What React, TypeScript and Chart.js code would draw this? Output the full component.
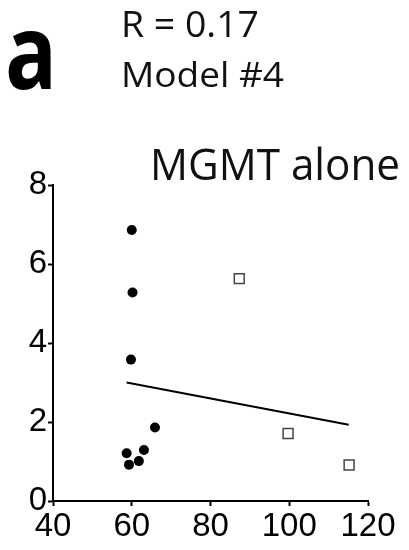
import React, { useEffect, useRef } from "react";
import { Chart, registerables } from "chart.js";

Chart.register(...registerables);

const filledX = [60.0, 60.2, 59.8, 65.9, 58.7, 63.1, 61.8, 59.3];
const filledY = [6.86, 5.28, 3.58, 1.86, 1.21, 1.29, 1.01, 0.92];
const openX = [87.3, 99.7, 115.2];
const openY = [5.63, 1.71, 0.91];
const fitX = [58.7, 115.1];
const fitY = [3.0, 1.93];
const xTicks = [40, 60, 80, 100, 120];
const yTicks = [0, 2, 4, 6, 8];

const panelLabel = "a";
const rLabel = "R = 0.17";
const modelLabel = "Model #4";
const titleLabel = "MGMT alone";

function fitText(
  ctx: CanvasRenderingContext2D,
  text: string,
  x: number,
  y: number,
  targetW: number,
  size: number,
  weight: string,
  family: string,
  color: string
) {
  ctx.save();
  ctx.font = `${weight} ${size}px ${family}`;
  ctx.fillStyle = color;
  ctx.textAlign = "left";
  ctx.textBaseline = "alphabetic";
  const w = ctx.measureText(text).width;
  ctx.translate(x, y);
  ctx.scale(targetW / w, 1);
  ctx.fillText(text, 0, 0);
  ctx.restore();
}

const textPlugin = {
  id: "textPlugin",
  afterDraw(chart: any) {
    const ctx = chart.ctx as CanvasRenderingContext2D;
    fitText(ctx, panelLabel, 5, 89, 52, 104, "700", "'Open Sans'", "#000");
    fitText(ctx, rLabel, 121, 37, 138, 37, "400", "'Open Sans'", "#111");
    fitText(ctx, modelLabel, 121, 87, 163, 35, "400", "'Open Sans'", "#111");
    fitText(ctx, titleLabel, 150, 180, 250, 43, "400", "'Open Sans'", "#111");
  },
};

export default function App() {
  const ref = useRef<HTMLCanvasElement>(null);
  useEffect(() => {
    if (!ref.current) return;
    const tickFont = { family: "'Liberation Sans', Arial, sans-serif", size: 33 };
    const chart = new Chart(ref.current, {
      type: "scatter",
      data: {
        datasets: [
          {
            type: "line",
            data: fitX.map((x, i) => ({ x, y: fitY[i] })),
            borderColor: "#000",
            borderWidth: 2,
            pointRadius: 0,
            showLine: true,
            fill: false,
          } as any,
          {
            data: filledX.map((x, i) => ({ x, y: filledY[i] })),
            pointStyle: "circle",
            pointRadius: 5,
            backgroundColor: "#000",
            borderColor: "#000",
            borderWidth: 0,
          },
          {
            data: openX.map((x, i) => ({ x, y: openY[i] })),
            pointStyle: "rect",
            pointRadius: 7,
            backgroundColor: "#fff",
            borderColor: "#444",
            borderWidth: 1.5,
          },
        ],
      },
      options: {
        responsive: false,
        animation: false,
        layout: { padding: { top: 185, right: 41, left: 0, bottom: 0 } },
        plugins: {
          legend: { display: false },
          tooltip: { enabled: false },
          title: { display: false },
        },
        scales: {
          x: {
            type: "linear",
            min: 40,
            max: 120,
            afterBuildTicks: (s: any) => {
              s.ticks = xTicks.map((v) => ({ value: v }));
            },
            afterFit: (s: any) => {
              s.height = 49;
            },
            grid: {
              display: true,
              drawOnChartArea: false,
              drawTicks: true,
              tickLength: 5,
              tickWidth: 2,
              tickColor: "#000",
            },
            border: { display: true, color: "#000", width: 2 },
            ticks: { color: "#000", font: tickFont, padding: 1, maxRotation: 0 },
          },
          y: {
            type: "linear",
            min: 0,
            max: 8,
            afterBuildTicks: (s: any) => {
              s.ticks = yTicks.map((v) => ({ value: v }));
            },
            afterFit: (s: any) => {
              s.width = 53;
            },
            grid: {
              display: true,
              drawOnChartArea: false,
              drawTicks: true,
              tickLength: 5,
              tickWidth: 2,
              tickColor: "#000",
            },
            border: { display: true, color: "#000", width: 2 },
            ticks: { color: "#000", font: tickFont, padding: 1 },
          },
        },
      } as any,
      plugins: [textPlugin],
    });
    return () => chart.destroy();
  }, []);
  return (
    <div style={{ position: "absolute", left: 0, top: 0, width: 409, height: 550, background: "#fff" }}>
      <canvas ref={ref} width={409} height={550} style={{ display: "block" }} />
    </div>
  );
}
